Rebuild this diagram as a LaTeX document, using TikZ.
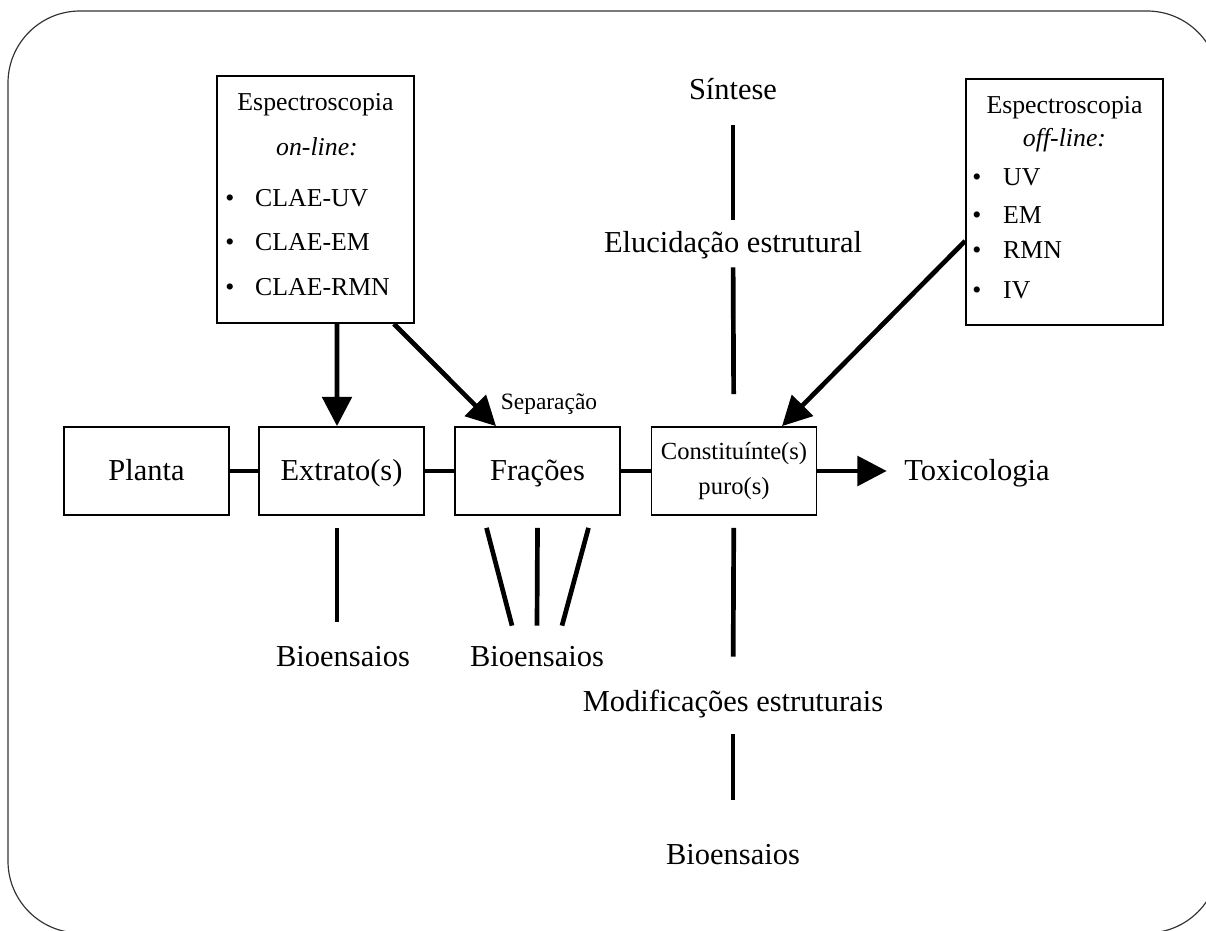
\documentclass[tikz,border=0pt]{standalone}
\usepackage{fontspec}
\setmainfont{Liberation Serif}
\usetikzlibrary{arrows.meta}

\tikzset{
  caixa/.style={draw, line width=1.5pt, minimum width=49.5mm, minimum height=26.4mm, inner sep=0pt, align=center},
  lista/.style={draw, line width=1.5pt, minimum width=59.1mm, inner sep=0pt},
  rotulo/.style={inner sep=0pt, font=\grande, text height=18pt, text depth=1pt},
  item/.style={inner sep=0pt, font=\medio, text height=15.4pt, text depth=1pt},
  linha/.style={line width=4pt},
  seta/.style={line width=4pt, -{Triangle[length=25pt, width=25pt]}},
}
\newcommand{\grande}{\fontsize{26}{31}\selectfont}
\newcommand{\medio}{\fontsize{22}{26}\selectfont}

\begin{document}
\begin{tikzpicture}[x=0.3mm, y=-0.3mm]

				\useasboundingbox (0,0) rectangle (1206,931);
				\begin{scope}
				\clip (0,0) rectangle (1206,931);
				\draw [line width=1pt, black!80, rounded corners=21.6mm] (8,11) rectangle (1219,933);
				\end{scope}

				% caixas de espectroscopia
				\node [lista, minimum height=74.1mm] (onl) at (315.5,199.5) {};
				\node [item] (onl1) at (315.5,102) {Espectroscopia};
				\node [item, font=\medio\itshape] (onl2) at (317,147) {on-line:};
				\node [item] at (230,198) {•};
				\node [item] at (230,242) {•};
				\node [item] at (230,287) {•};
				\node [item, anchor=west] (onl3) at (255,198) {CLAE-UV};
				\node [item, anchor=west] (onl4) at (255,242) {CLAE-EM};
				\node [item, anchor=west] (onl5) at (255,287) {CLAE-RMN};

				\node [lista, minimum height=73.8mm] (off) at (1064.5,202) {};
				\node [item] (off1) at (1064.5,105) {Espectroscopia};
				\node [item, font=\medio\itshape] (off2) at (1064.5,138) {off-line:};
				\node [item] at (977,177) {•};
				\node [item] at (977,215) {•};
				\node [item] at (977,250) {•};
				\node [item] at (977,290) {•};
				\node [item, anchor=west] (off3) at (1003,177) {UV};
				\node [item, anchor=west] (off4) at (1003,215) {EM};
				\node [item, anchor=west] (off5) at (1003,250) {RMN};
				\node [item, anchor=west] (off6) at (1003,290) {IV};

				% fluxo principal
				\node [caixa, rotulo] (plan) at (146.5,471) {Planta};
				\node [caixa, rotulo] (extr) at (341.5,471) {Extrato(s)};
				\node [caixa, rotulo] (frac) at (537.5,471) {Frações};
				\node [caixa, font=\fontsize{21}{30}\selectfont] (const) at (734,471) {Constituínte(s)\\puro(s)};
				\node [rotulo] (toxi) at (977,471) {Toxicologia};
				\node [inner sep=0pt, font=\fontsize{20}{24}\selectfont, text height=14pt, text depth=1pt] (sepa) at (549,402) {Separação};

				\node [rotulo] (sint) at (733,90) {Síntese};
				\node [rotulo] (eluc) at (733,243) {Elucidação estrutural};
				\node [rotulo] (modif) at (733,702) {Modificações estruturais};
				\node [rotulo] (bio1) at (343,657) {Bioensaios};
				\node [rotulo] (bio2) at (537,657) {Bioensaios};
				\node [rotulo] (bio3) at (733,855) {Bioensaios};

				\draw [linha] (plan) -- (extr);
				\draw [linha] (extr) -- (frac);
				\draw [linha] (frac) -- (const);
				\draw [seta, shorten >=5.25mm] (const) -- (toxi);

				\draw [seta] ([xshift=6.45mm]onl.south) -- ([xshift=-1.35mm]extr.north);
				\draw [seta] ([xshift=-6.3mm]onl.south east) -- ([xshift=-12.45mm]frac.north);
				\draw [seta] ([yshift=-11.7mm]off.west) -- ([xshift=14.4mm]const.north);

				\draw [linha, shorten <=7.2mm, shorten >=3.6mm] (sint) -- (eluc);
				\draw [linha, shorten <=3.9mm, shorten >=9.6mm] (eluc) -- (const);
				\draw [linha, shorten <=3.6mm, shorten >=10.2mm] (const) -- (modif);
				\draw [linha, shorten <=6.3mm, shorten >=13.2mm] (modif) -- (bio3);

				\draw [linha] ([xshift=-1.35mm, yshift=-3.6mm]extr.south) -- ([xshift=-1.8mm, yshift=7.2mm]bio1.north);
				\draw [linha] ([xshift=-15.3mm, yshift=-3.6mm]frac.south) -- ([xshift=-7.5mm, yshift=6mm]bio2.north);
				\draw [linha] ([yshift=-3.6mm]frac.south) -- ([yshift=6mm]bio2.north);
				\draw [linha] ([xshift=15.3mm, yshift=-3.6mm]frac.south) -- ([xshift=7.5mm, yshift=6mm]bio2.north);
		\end{tikzpicture}
\end{document}
